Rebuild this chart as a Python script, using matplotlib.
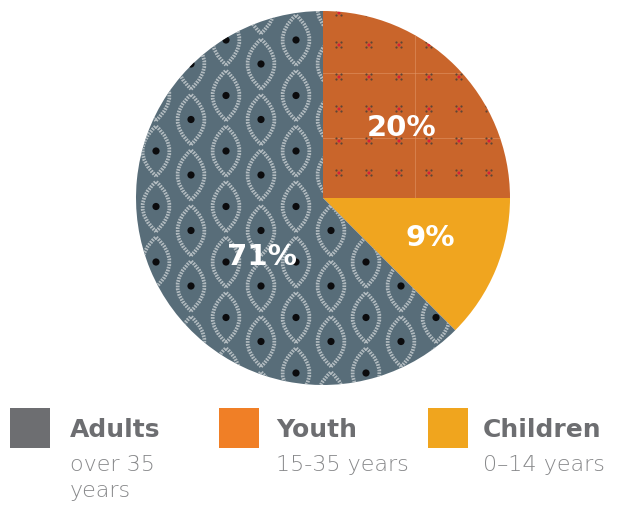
import numpy as np
import matplotlib
matplotlib.use("Agg")
import matplotlib.pyplot as plt
from matplotlib.path import Path
from matplotlib.patches import PathPatch, Rectangle, Circle

# ---- data ----
categories = ["Youth", "Children", "Adults"]
subtitles = ["15-35 years", "0\u201314 years", "over 35\nyears"]
pct_labels = ["20%", "9%", "71%"]
slice_sizes = [25, 12.5, 62.5]          # visual share of each wedge as drawn
wedge_colors = ["#c9652b", "#f0a51f", "#586d79"]
legend_order = ["Adults", "Youth", "Children"]
legend_colors = {"Adults": "#6d6e71", "Youth": "#f07f26", "Children": "#f0a51e"}
legend_sub = dict(zip(categories, subtitles))

W, H = 618, 508
fig = plt.figure(figsize=(W / 100, H / 100), dpi=100)
ax = fig.add_axes([0, 0, 1, 1])

def Y(y):
    return H - y

cx, cy, R = 323, Y(198), 187
wedges, _ = ax.pie(slice_sizes, colors=wedge_colors, startangle=90,
                   counterclock=False, center=(cx, cy), radius=R,
                   wedgeprops=dict(linewidth=0), frame=True)
ax.set_xlim(0, W)
ax.set_ylim(0, H)
ax.set_aspect("equal")
ax.axis("off")

# ---- Adults texture: lens shapes with black dots ----
adults = wedges[2]
def lens(x, y, hw, hh):
    verts = [(x, y - hh), (x + 2 * hw, y), (x, y + hh), (x - 2 * hw, y), (x, y - hh)]
    codes = [Path.MOVETO, Path.CURVE3, Path.CURVE3, Path.CURVE3, Path.CURVE3]
    return Path(verts, codes)

col_x0, col_dx = 156, 35
row_dy = 55.5
for k in range(-1, 12):
    x = col_x0 + k * col_dx
    y0 = 40 if k % 2 == 0 else 64
    for j in range(-1, 9):
        y = y0 + j * row_dy
        p = PathPatch(lens(x, Y(y), 13.5, 25), facecolor="none",
                      edgecolor="#c3cacd", linewidth=2.7,
                      linestyle=(0, (0.45, 0.3)), alpha=0.85, zorder=3)
        p.set_clip_path(adults)
        ax.add_patch(p)
        d = Circle((x, Y(y)), 3.6, facecolor="#0b0b0d", edgecolor="none", zorder=4)
        d.set_clip_path(adults)
        ax.add_patch(d)

# ---- Youth texture: small cross marks with red centres ----
youth = wedges[0]
for gx in [415]:
    ln, = ax.plot([gx, gx], [Y(0), Y(198)], color="#e39a6c", lw=0.6, alpha=0.6, zorder=3)
    ln.set_clip_path(youth)
for gy in [73, 138]:
    ln, = ax.plot([323, 520], [Y(gy), Y(gy)], color="#e39a6c", lw=0.6, alpha=0.6, zorder=3)
    ln.set_clip_path(youth)
for i in range(7):
    x = 339 + 30 * i
    for j in range(7):
        y = 13 + 32 * j
        for ddx, ddy in [(-2.5, -2.5), (2.5, -2.5), (-2.5, 2.5), (2.5, 2.5)]:
            c = Circle((x + ddx, Y(y) + ddy), 1.1, facecolor="#5e4436",
                       edgecolor="none", zorder=4)
            c.set_clip_path(youth)
            ax.add_patch(c)
        c = Circle((x, Y(y)), 1.5, facecolor="#d8203a", edgecolor="none", zorder=5)
        c.set_clip_path(youth)
        ax.add_patch(c)

# ---- percentage labels ----
label_pos = [(402, 128), (430, 238), (262, 257)]
for lab, (tx, ty) in zip(pct_labels, label_pos):
    ax.text(tx, Y(ty), lab, color="white", fontsize=21, fontweight="bold",
            ha="center", va="center", family="DejaVu Sans", zorder=6)

# ---- legend ----
sq_x = {"Adults": 10, "Youth": 219, "Children": 428}
txt_x = {"Adults": 70, "Youth": 276, "Children": 483}
for name in legend_order:
    ax.add_patch(Rectangle((sq_x[name], Y(448)), 40, 40,
                           facecolor=legend_colors[name], edgecolor="none"))
    ax.text(txt_x[name], Y(437), name, color="#6d6e71", fontsize=18,
            fontweight="bold", ha="left", va="baseline", family="DejaVu Sans")
    for li, line in enumerate(legend_sub[name].split("\n")):
        ax.text(txt_x[name], Y(471 + 26 * li), line, color="#87888a",
                fontsize=16, fontweight="light", ha="left", va="baseline",
                family="DejaVu Sans")

fig.savefig("out.png", dpi=100, facecolor="white")
